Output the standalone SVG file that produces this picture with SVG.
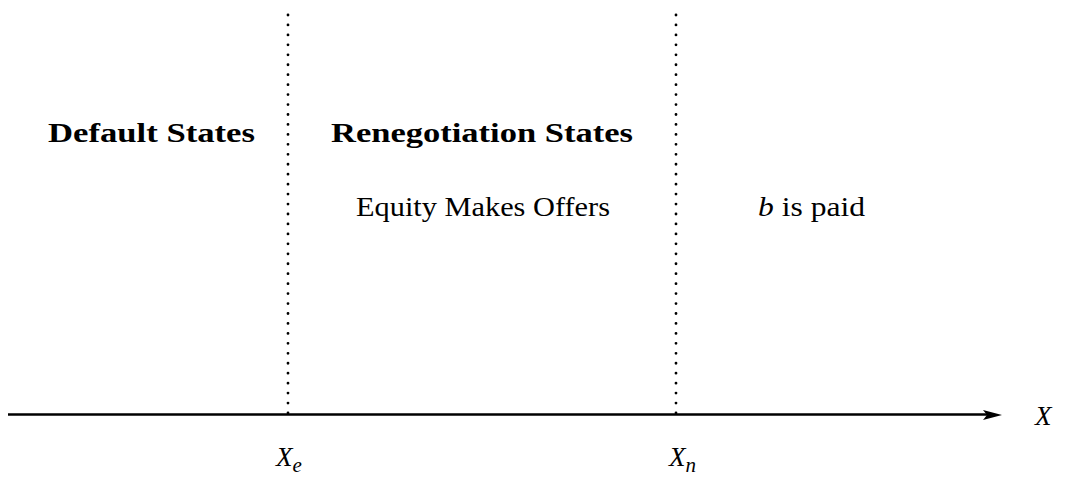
<svg xmlns="http://www.w3.org/2000/svg" width="1068" height="479" viewBox="0 0 1068 479">
<style>
text{font-family:'Liberation Serif','Times New Roman',Tinos,'Noto Serif','DejaVu Serif',Times,serif;fill:#000;font-size:27px}
.b{font-weight:bold}
.i{font-style:italic}
.dot{stroke:#000;stroke-width:2.8;stroke-linecap:round;stroke-dasharray:0 9.95;fill:none}
</style>
<rect width="1068" height="479" fill="#fff"/>
<g id="connectors">
<line class="dot" x1="288" y1="15" x2="288" y2="413"/>
<line class="dot" x1="676" y1="15" x2="676" y2="413"/>
<line x1="8" y1="414.5" x2="988" y2="414.5" stroke="#000" stroke-width="2.6"/>
<path d="M1002 415 L983 410 L987 415 L983 420 Z" fill="#000"/>
</g>
<g id="default"><text class="b" x="48" y="142" textLength="207" lengthAdjust="spacingAndGlyphs">Default States</text></g>
<g id="renegotiation"><text class="b" x="331" y="142" textLength="302" lengthAdjust="spacingAndGlyphs">Renegotiation States</text></g>
<g id="equity"><text x="356" y="216" textLength="254" lengthAdjust="spacingAndGlyphs">Equity Makes Offers</text></g>
<g id="paid"><text x="758" y="216" textLength="107" lengthAdjust="spacingAndGlyphs"><tspan class="i">b</tspan> is paid</text></g>
<g id="xe"><text class="i" x="276" y="466">X<tspan font-size="21" dy="6">e</tspan></text></g>
<g id="xn"><text class="i" x="669" y="466">X<tspan font-size="21" dy="6">n</tspan></text></g>
<g id="x"><text class="i" x="1035" y="425">X</text></g>
</svg>
